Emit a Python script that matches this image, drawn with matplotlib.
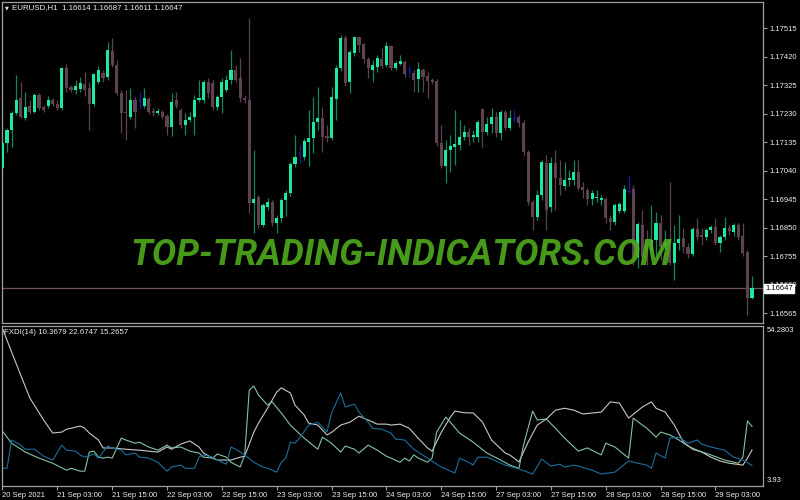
import matplotlib
matplotlib.use("Agg")
import matplotlib.pyplot as plt
import matplotlib.transforms as mtransforms
import numpy as np

plt.rcParams['font.family'] = ['Liberation Sans', 'DejaVu Sans']

# EURUSD H1, 20 Sep 15:00 .. 29 Sep 11:00 (165 bars)
opens = [
    1.17048, 1.17132, 1.17175, 1.17232, 1.17282, 1.17215, 1.17255, 1.17235, 1.17292, 1.17252,
    1.17255, 1.17275, 1.17262, 1.17248, 1.17382, 1.17318, 1.17308, 1.17312, 1.17328, 1.17315,
    1.17262, 1.17335, 1.17365, 1.17352, 1.17438, 1.17392, 1.17298, 1.17235, 1.17218, 1.17275,
    1.17275, 1.17255, 1.17278, 1.17238, 1.17232, 1.17235, 1.17222, 1.17185, 1.17275, 1.17242,
    1.17192, 1.17208, 1.17218, 1.17275, 1.17275, 1.17335, 1.17332, 1.17252, 1.17285, 1.17308,
    1.17342, 1.17375, 1.17348, 1.17282, 1.17275, 1.16932, 1.16952, 1.16858, 1.16918, 1.16935,
    1.16865, 1.16882, 1.16942, 1.16965, 1.17062, 1.17098, 1.17085, 1.17135, 1.17148, 1.17202,
    1.17215, 1.17155, 1.17148, 1.17278, 1.17382, 1.17482, 1.17335, 1.17432, 1.17485, 1.17462,
    1.17412, 1.17375, 1.17385, 1.17412, 1.17392, 1.17455, 1.17382, 1.17395, 1.17402, 1.17375,
    1.17365, 1.17345, 1.17375, 1.17355, 1.17342, 1.17338, 1.17132, 1.17055, 1.17108, 1.17118,
    1.17125, 1.17152, 1.17168, 1.17152, 1.17152, 1.17245, 1.17168, 1.17195, 1.17218, 1.17165,
    1.17235, 1.17182, 1.17215, 1.17218, 1.17198, 1.17102, 1.16935, 1.16885, 1.16958, 1.17065,
    1.16918, 1.17065, 1.17015, 1.16988, 1.17008, 1.17008, 1.17035, 1.16985, 1.16975, 1.16945,
    1.16948, 1.16942, 1.16945, 1.16882, 1.16868, 1.16905, 1.16905, 1.16972, 1.16978, 1.16752,
    1.16858, 1.16808, 1.16775, 1.16808, 1.16865, 1.16785, 1.16808, 1.16732, 1.16798, 1.16815,
    1.16785, 1.16762, 1.16845, 1.16825, 1.16818, 1.16842, 1.16852, 1.16798, 1.16818, 1.16848,
    1.16835, 1.16858, 1.16822, 1.16768, 1.16614,
]
highs = [
    1.17142, 1.17182, 1.17238, 1.17358, 1.17335, 1.17302, 1.17275, 1.17298, 1.17298, 1.17258,
    1.17288, 1.17282, 1.17275, 1.17385, 1.17395, 1.17325, 1.17342, 1.17352, 1.17368, 1.17335,
    1.17365, 1.17388, 1.17375, 1.17468, 1.17482, 1.17408, 1.17308, 1.17308, 1.17315, 1.17285,
    1.17302, 1.17315, 1.17285, 1.17248, 1.17248, 1.17242, 1.17228, 1.17298, 1.17302, 1.17248,
    1.17232, 1.17235, 1.17292, 1.17342, 1.17342, 1.17348, 1.17342, 1.17292, 1.17348, 1.17358,
    1.17442, 1.17392, 1.17415, 1.17292, 1.17548, 1.17108, 1.16958, 1.16932, 1.16948, 1.16942,
    1.16892, 1.16948, 1.16975, 1.17068, 1.17158, 1.17125, 1.17148, 1.17242, 1.17285, 1.17318,
    1.17252, 1.17192, 1.17318, 1.17392, 1.17492, 1.17492, 1.17442, 1.17488, 1.17488, 1.17465,
    1.17418, 1.17408, 1.17425, 1.17448, 1.17468, 1.17458, 1.17405, 1.17425, 1.17408, 1.17388,
    1.17375, 1.17402, 1.17382, 1.17368, 1.17348, 1.17345, 1.17192, 1.17142, 1.17158, 1.17242,
    1.17208, 1.17192, 1.17182, 1.17175, 1.17208, 1.17248, 1.17218, 1.17248, 1.17235, 1.17242,
    1.17242, 1.17242, 1.17242, 1.17225, 1.17208, 1.17108, 1.16942, 1.16975, 1.17075, 1.17092,
    1.17085, 1.17108, 1.17075, 1.17068, 1.17042, 1.17075, 1.17075, 1.17002, 1.16982, 1.16975,
    1.16975, 1.16958, 1.16952, 1.16892, 1.16932, 1.16935, 1.16992, 1.17022, 1.16992, 1.16868,
    1.16908, 1.16842, 1.16925, 1.16902, 1.16892, 1.16842, 1.17002, 1.16858, 1.16892, 1.16848,
    1.16798, 1.16852, 1.16882, 1.16848, 1.16848, 1.16858, 1.16882, 1.16825, 1.16885, 1.16858,
    1.16865, 1.16865, 1.16865, 1.16775, 1.16687,
]
lows = [
    1.17035, 1.17102, 1.17118, 1.17225, 1.17215, 1.17208, 1.17228, 1.17232, 1.17242, 1.17235,
    1.17248, 1.17255, 1.17242, 1.17242, 1.17302, 1.17302, 1.17295, 1.17302, 1.17288, 1.17175,
    1.17255, 1.17328, 1.17335, 1.17342, 1.17385, 1.17292, 1.17165, 1.17142, 1.17212, 1.17182,
    1.17245, 1.17248, 1.17228, 1.17222, 1.17225, 1.17212, 1.17158, 1.17155, 1.17248, 1.17182,
    1.17158, 1.17202, 1.17158, 1.17268, 1.17265, 1.17282, 1.17242, 1.17242, 1.17232, 1.17302,
    1.17328, 1.17335, 1.17268, 1.17265, 1.16898, 1.16832, 1.16848, 1.16852, 1.16908, 1.16855,
    1.16832, 1.16868, 1.16888, 1.16955, 1.17052, 1.17065, 1.17075, 1.17055, 1.17098, 1.17175,
    1.17102, 1.17135, 1.17142, 1.17208, 1.17372, 1.17322, 1.17298, 1.17422, 1.17435, 1.17398,
    1.17348, 1.17335, 1.17368, 1.17382, 1.17385, 1.17375, 1.17375, 1.17392, 1.17352, 1.17352,
    1.17302, 1.17302, 1.17302, 1.17282, 1.17328, 1.17122, 1.17048, 1.16998, 1.17035, 1.17058,
    1.17108, 1.17142, 1.17125, 1.17135, 1.17135, 1.17118, 1.17158, 1.17165, 1.17152, 1.17142,
    1.17175, 1.17175, 1.17202, 1.17185, 1.17088, 1.16925, 1.16842, 1.16875, 1.16942, 1.16842,
    1.16902, 1.16908, 1.16958, 1.16975, 1.16988, 1.16992, 1.16975, 1.16948, 1.16925, 1.16925,
    1.16935, 1.16925, 1.16865, 1.16842, 1.16858, 1.16898, 1.16898, 1.16965, 1.16725, 1.16715,
    1.16735, 1.16725, 1.16752, 1.16758, 1.16742, 1.16775, 1.16725, 1.16675, 1.16775, 1.16765,
    1.16748, 1.16755, 1.16808, 1.16792, 1.16808, 1.16832, 1.16792, 1.16768, 1.16808, 1.16825,
    1.16822, 1.16808, 1.16755, 1.16558, 1.16611,
]
closes = [
    1.17132, 1.17175, 1.17232, 1.17275, 1.17218, 1.17252, 1.17235, 1.17292, 1.17248, 1.17242,
    1.17275, 1.17262, 1.17248, 1.17382, 1.17315, 1.17308, 1.17322, 1.17332, 1.17308, 1.17262,
    1.17362, 1.17375, 1.17348, 1.17442, 1.17392, 1.17298, 1.17232, 1.17232, 1.17275, 1.17235,
    1.17275, 1.17282, 1.17235, 1.17232, 1.17238, 1.17218, 1.17185, 1.17268, 1.17255, 1.17192,
    1.17208, 1.17218, 1.17275, 1.17282, 1.17335, 1.17298, 1.17252, 1.17285, 1.17335, 1.17342,
    1.17375, 1.17342, 1.17282, 1.17275, 1.16932, 1.16945, 1.16858, 1.16925, 1.16935, 1.16865,
    1.16882, 1.16942, 1.16965, 1.17062, 1.17085, 1.17098, 1.17138, 1.17148, 1.17202, 1.17215,
    1.17152, 1.17148, 1.17285, 1.17382, 1.17482, 1.17332, 1.17435, 1.17485, 1.17458, 1.17412,
    1.17382, 1.17392, 1.17415, 1.17388, 1.17455, 1.17382, 1.17398, 1.17405, 1.17362, 1.17375,
    1.17342, 1.17378, 1.17352, 1.17338, 1.17335, 1.17132, 1.17055, 1.17108, 1.17122, 1.17128,
    1.17152, 1.17168, 1.17152, 1.17158, 1.17202, 1.17168, 1.17195, 1.17218, 1.17165, 1.17235,
    1.17182, 1.17215, 1.17215, 1.17198, 1.17102, 1.16935, 1.16885, 1.16958, 1.17068, 1.16908,
    1.17065, 1.17015, 1.16992, 1.17008, 1.17015, 1.17035, 1.16982, 1.16975, 1.16945, 1.16965,
    1.16952, 1.16948, 1.16882, 1.16868, 1.16925, 1.16928, 1.16978, 1.16972, 1.16752, 1.16862,
    1.16752, 1.16775, 1.16808, 1.16865, 1.16785, 1.16802, 1.16732, 1.16798, 1.16812, 1.16785,
    1.16762, 1.16845, 1.16818, 1.16818, 1.16842, 1.16852, 1.16798, 1.16818, 1.16848, 1.16838,
    1.16858, 1.16818, 1.16765, 1.16614, 1.16647,
]

price_ticks = [1.16565, 1.16660, 1.16755, 1.16850, 1.16945, 1.17040,
               1.17135, 1.17230, 1.17325, 1.17420, 1.17515]
time_ticks = [0, 12, 24, 36, 48, 60, 72, 84, 96, 108, 120, 132, 144, 156]
time_labels = ["20 Sep 2021", "21 Sep 03:00", "21 Sep 15:00", "22 Sep 03:00",
               "22 Sep 15:00", "23 Sep 03:00", "23 Sep 15:00", "24 Sep 03:00",
               "24 Sep 15:00", "27 Sep 03:00", "27 Sep 15:00", "28 Sep 03:00",
               "28 Sep 15:00", "29 Sep 03:00"]

# FXDI(14) buffers, read at bar indices
fx1_bars = [0, 1, 2, 4, 5, 7, 9, 10, 11, 13, 14, 16, 17, 18, 20, 21, 23, 24, 26, 27,
            29, 30, 32, 34, 36, 37, 39, 40, 42, 43, 44, 46, 48, 49, 50, 51, 53, 55, 57, 58,
            60, 61, 62, 63, 64, 65, 67, 69, 71, 72, 74, 75, 77, 78, 80, 81, 83, 85, 86, 88,
            90, 93, 96, 99, 100, 102, 103, 104, 106, 107, 110, 113, 116, 118, 120, 122, 123, 125, 126, 129,
            131, 134, 135, 137, 139, 141, 142, 143, 145, 146, 148, 150, 152, 153, 155, 158, 160, 162, 164]
fx1_vals = [9.5, 9.5, 18.4, 16.8, 15.5, 15.5, 13.3, 12.7, 12.1, 16.8, 15.2, 14.9, 13.7, 13.0, 14.0, 12.7, 16.5, 15.9, 15.2, 13.7,
            14.3, 13.0, 12.7, 11.4, 8.6, 9.9, 10.5, 9.5, 9.5, 13.0, 13.7, 13.0, 11.4, 10.8, 16.2, 15.5, 13.7, 11.4, 9.9, 9.5,
            8.3, 11.4, 12.7, 17.7, 17.4, 19.0, 23.1, 24.0, 20.9, 26.9, 33.2, 28.8, 29.7, 27.2, 24.0, 22.1, 21.8, 20.6, 18.7, 18.4,
            15.5, 12.7, 9.9, 8.0, 12.7, 11.4, 10.5, 13.0, 13.0, 12.4, 10.5, 9.3, 7.7, 12.4, 10.2, 10.8, 9.9, 10.5, 10.2, 8.9,
            7.7, 8.3, 9.5, 11.8, 11.1, 10.5, 9.5, 14.3, 12.7, 19.0, 19.3, 17.4, 18.4, 17.1, 16.2, 15.2, 13.0, 12.1, 10.3679]
fx2_bars = [0, 2, 5, 8, 11, 14, 15, 17, 18, 19, 20, 21, 22, 23, 24, 26, 27, 29, 30, 32,
            34, 36, 37, 39, 41, 43, 44, 46, 47, 49, 50, 52, 53, 54, 55, 56, 58, 59, 61, 63,
            66, 69, 70, 72, 74, 75, 77, 78, 80, 82, 84, 85, 87, 88, 89, 90, 91, 93, 94, 95,
            97, 98, 100, 103, 106, 109, 111, 113, 114, 116, 117, 119, 121, 123, 126, 128, 131, 132, 134, 137,
            138, 140, 141, 143, 144, 146, 148, 150, 152, 155, 158, 161, 162, 163, 164]
fx2_vals = [21.2, 17.4, 14.6, 12.7, 11.1, 8.9, 9.5, 8.6, 8.6, 14.6, 14.9, 13.0, 12.7, 13.0, 12.7, 19.0, 18.4, 17.4, 17.7, 16.2,
            15.2, 16.8, 15.9, 16.2, 14.9, 14.3, 13.0, 12.7, 14.0, 13.0, 11.4, 9.9, 13.7, 34.1, 35.4, 32.6, 29.4, 30.4, 26.9, 23.1,
            19.0, 15.5, 19.3, 17.4, 14.6, 16.5, 15.5, 14.3, 16.8, 15.2, 13.3, 12.7, 11.4, 12.7, 11.8, 13.7, 12.7, 11.4, 12.7, 20.9,
            25.6, 24.0, 20.6, 17.7, 14.3, 12.1, 10.5, 9.5, 16.8, 27.5, 24.7, 25.0, 22.1, 19.0, 14.9, 15.9, 13.7, 17.4, 16.2, 12.7,
            25.3, 23.1, 22.1, 19.3, 20.9, 20.0, 18.4, 16.5, 15.2, 13.7, 12.1, 11.1, 13.0, 24.4, 22.6747]
fx3_bars = [0, 2, 4, 6, 9, 11, 13, 14, 15, 17, 18, 19, 21, 22, 24, 27, 30, 32, 34, 36,
            37, 39, 41, 43, 44, 46, 47, 50, 52, 53, 55, 56, 58, 60, 61, 63, 64, 66, 67, 69,
            71, 72, 74, 76, 78, 80, 82, 84, 85, 87, 89, 91, 93, 94, 96, 98, 99, 101, 103, 105,
            107, 110, 111, 113, 115, 117, 119, 121, 123, 125, 127, 131, 133, 135, 137, 140, 142, 143, 145, 147,
            149, 151, 153, 155, 157, 159, 162, 163, 164]
fx3_vals = [53.5, 46.1, 38.8, 31.6, 24.7, 20.6, 20.9, 21.8, 22.1, 22.8, 22.1, 20.6, 18.4, 15.9, 15.9, 15.5, 15.2, 14.9, 14.6, 16.2,
            15.5, 17.1, 18.1, 16.2, 14.3, 12.7, 12.1, 12.1, 13.0, 13.3, 20.9, 23.7, 28.4, 33.5, 34.8, 33.2, 29.4, 26.3, 23.7, 23.1,
            20.0, 20.8, 23.1, 24.0, 25.9, 24.7, 23.4, 23.4, 23.1, 23.4, 22.1, 18.9, 15.9, 14.9, 20.8, 25.6, 27.5, 27.0, 26.9, 24.1,
            18.4, 14.3, 13.7, 11.5, 17.7, 23.1, 25.0, 27.8, 28.4, 27.8, 26.6, 27.2, 30.4, 30.0, 25.3, 28.8, 30.4, 28.4, 27.2, 23.1,
            17.7, 15.5, 14.6, 13.0, 11.8, 11.1, 10.5, 12.7, 15.2657]
fx_max, fx_min = 54.2803, 3.93

bull_body = '#1fe9a0'
bull_wick = '#13875c'
bear_col = '#5e4152'
doji_col = '#1a1aa0'
frame = '#a0a0a0'
txt = '#eeeeee'

fig = plt.figure(figsize=(8, 5), dpi=100, facecolor='black')
ax = fig.add_axes([2/800, 1-323/500, 761/800, 321/500])
ax2 = fig.add_axes([2/800, 1-486/500, 761/800, 160/500])
for a in (ax, ax2):
    a.set_facecolor('black')
    for s in a.spines.values():
        s.set_color(frame)
        s.set_linewidth(0.9)
    a.set_xlim(-0.1, 166.4)

o = np.array(opens); h = np.array(highs); l = np.array(lows); c = np.array(closes)
x = np.arange(len(c))
up = c > o
dn = c < o
dj = c == o

ax.vlines(x[up], l[up], h[up], color=bull_wick, lw=0.9, zorder=2)
ax.vlines(x[dn], l[dn], h[dn], color=bear_col, lw=0.9, zorder=2)
ax.vlines(x[dj], l[dj], h[dj], color=doji_col, lw=0.9, zorder=2)
ax.bar(x[up], c[up] - o[up], bottom=o[up], width=0.68, color=bull_body, linewidth=0, zorder=3)
ax.bar(x[dn], o[dn] - c[dn], bottom=c[dn], width=0.68, color=bear_col, linewidth=0, zorder=3)
ax.hlines(o[dj], x[dj] - 0.34, x[dj] + 0.34, color=doji_col, lw=0.9, zorder=3)

ax.set_ylim(1.165317, 1.176017)
ax.axhline(closes[-1], color='#6e5262', lw=0.9, zorder=1)
ax.set_xticks([])
ax.yaxis.tick_right()
ax.set_yticks(price_ticks)
ax.set_yticklabels([f"{p:.5f}" for p in price_ticks])
ax.tick_params(axis='y', colors=frame, labelcolor=txt, labelsize=5.5, length=3, width=0.8, pad=1.5)

trans = mtransforms.blended_transform_factory(ax.transAxes, ax.transData)
ax.text(1.0 + 2/761, closes[-1], f"{closes[-1]:.5f}", transform=trans, fontsize=5.5,
        color='black', ha='left', va='center', clip_on=False, zorder=5,
        bbox=dict(boxstyle='square,pad=0.18', fc='white', ec='white'))

fig.text(5/800, 1-7.5/500, "\u25bc", fontsize=3.5, color=txt, family='DejaVu Sans', va='center')
fig.text(12/800, 1-7.5/500, f"{'EURUSD,H1'}  {opens[-1]:.5f} {highs[-1]:.5f} {lows[-1]:.5f} {closes[-1]:.5f}",
         fontsize=5.7, color=txt, va='center')

fig.text(401/800, 1-265/500, "TOP-TRADING-INDICATORS.COM", fontsize=26.2, color='#4ea81c',
         family=['Roboto', 'DejaVu Sans'], weight='bold', style='italic',
         ha='center', va='baseline', alpha=0.92, zorder=10)

# indicator window
ax2.plot(fx3_bars, fx3_vals, color='#c8c8c8', lw=0.8)
ax2.plot(fx2_bars, fx2_vals, color='#86c2a4', lw=0.8)
ax2.plot(fx1_bars, fx1_vals, color='#1b6f9e', lw=0.8)
ax2.set_ylim(fx_min, fx_max)
ax2.set_yticks([])
ax2.set_xticks(time_ticks)
ax2.set_xticklabels(time_labels, ha='left')
ax2.tick_params(axis='x', colors=frame, labelcolor=txt, labelsize=5.5, length=3, width=0.8, pad=1.5)

fig.text(4/800, 1-332/500, f"FXDI(14) {fx1_vals[-1]:.4f} {fx2_vals[-1]:.4f} {fx3_vals[-1]:.4f}",
         fontsize=5.7, color=txt, va='center')
fig.text(767/800, 1-331/500, f"{fx_max:.4f}", fontsize=5.5, color=txt, va='center')
fig.text(767/800, 1-481/500, f"{fx_min:.2f}", fontsize=5.5, color=txt, va='center')

fig.savefig("out.png", dpi=100, facecolor='black')
